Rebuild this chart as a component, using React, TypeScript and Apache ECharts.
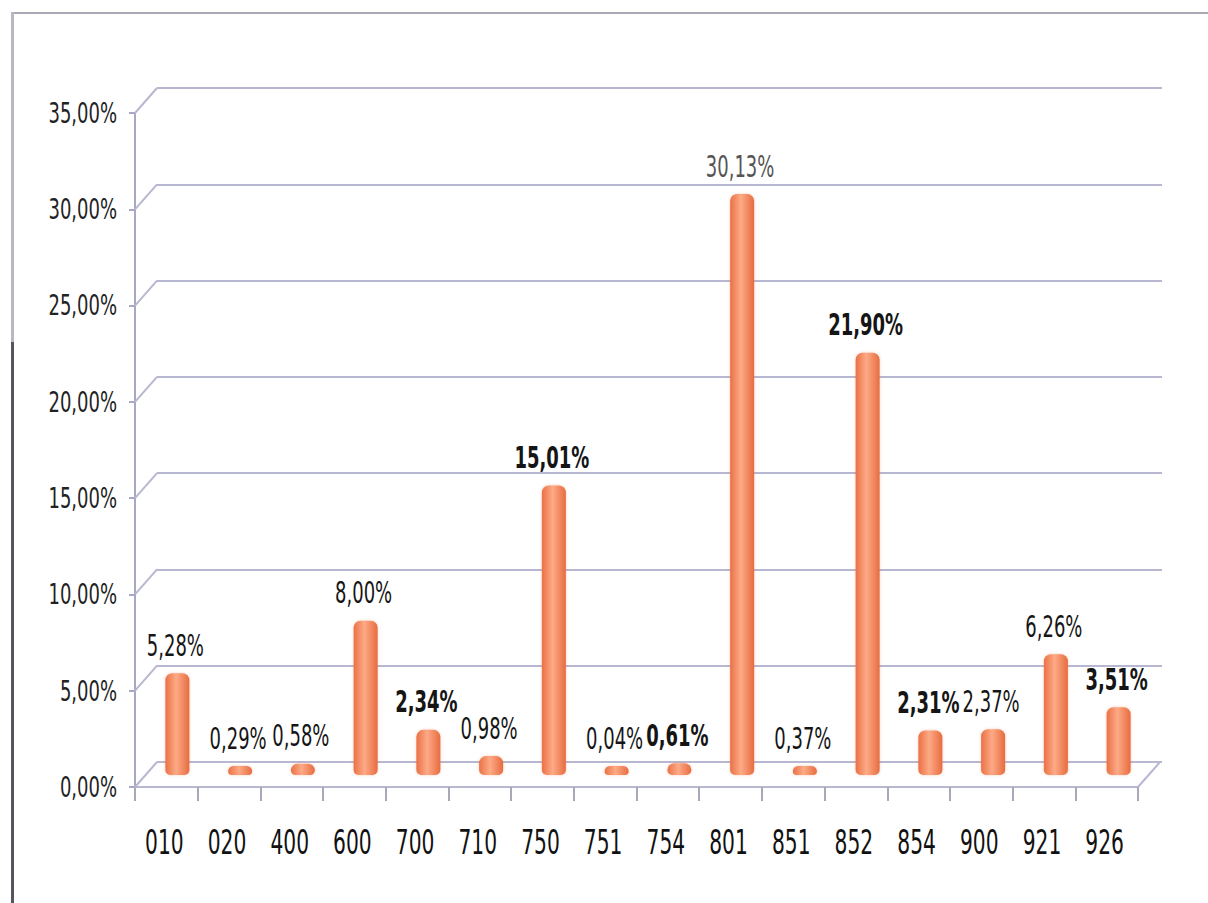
import React, { useEffect, useRef } from "react";
import * as echarts from "echarts";

const categories = ["010", "020", "400", "600", "700", "710", "750", "751", "754", "801", "851", "852", "854", "900", "921", "926"];
const shares = [5.28, 0.29, 0.58, 8.0, 2.34, 0.98, 15.01, 0.04, 0.61, 30.13, 0.37, 21.9, 2.31, 2.37, 6.26, 3.51];
const boldLabels = ["750", "852", "700", "854", "926", "754"];
const yTicks = [0, 5, 10, 15, 20, 25, 30, 35];

const FONT = "'DejaVu Sans Condensed', 'DejaVu Sans', sans-serif";
const GRID_COLOR = "#b7b7d2";
const DX = 22;
const DY = -25;
const MIN_BAR = 9;

const fmt = (v: number) => v.toFixed(2).replace(".", ",") + "%";

function tallText(x: number, y: number, text: string, opts: any) {
  return {
    type: "text",
    x,
    y,
    scaleY: opts.scaleY ?? 1.5,
    style: {
      text,
      fill: opts.color ?? "#111",
      fontSize: opts.fontSize ?? 20,
      fontFamily: FONT,
      fontWeight: opts.bold ? "bold" : "normal",
      align: opts.align ?? "center",
      textAlign: opts.align ?? "center",
      verticalAlign: opts.vAlign ?? "middle",
      textVerticalAlign: opts.vAlign ?? "middle",
    },
  };
}

export default function App() {
  const ref = useRef<HTMLDivElement>(null);
  useEffect(() => {
    document.body.style.margin = "0";
    const chart = echarts.init(ref.current!, null, { renderer: "svg" });
    const barGrad = new echarts.graphic.LinearGradient(0, 0, 1, 0, [
      { offset: 0, color: "#ea7146" },
      { offset: 0.45, color: "#fdaa86" },
      { offset: 1, color: "#e76c40" },
    ]);
    const option: any = {
      animation: false,
      backgroundColor: "#ffffff",
      grid: [
        { left: 135, right: 70, top: 113, bottom: 116 },
        { left: 157, right: 46, top: 88, bottom: 141 },
        { left: 146, right: 58, top: 100, bottom: 128 },
      ],
      xAxis: [
        {
          gridIndex: 0,
          type: "category",
          data: categories,
          axisLine: { show: true, lineStyle: { color: GRID_COLOR, width: 2 } },
          axisTick: { show: true, length: 14, lineStyle: { color: "#a8a8b8", width: 2 } },
          axisLabel: { show: false },
        },
        { gridIndex: 1, type: "category", data: categories, show: false },
        { gridIndex: 2, type: "category", data: categories, show: false },
      ],
      yAxis: [
        {
          gridIndex: 0,
          type: "value",
          min: 0,
          max: 35,
          interval: 5,
          axisLine: { show: true, lineStyle: { color: "#a8a8c4", width: 2 } },
          axisTick: { show: true, length: 6, lineStyle: { color: "#a8a8c4", width: 2 } },
          splitLine: { show: false },
          axisLabel: { show: false },
        },
        {
          gridIndex: 1,
          type: "value",
          min: 0,
          max: 35,
          interval: 5,
          axisLine: { show: false },
          axisTick: { show: false },
          axisLabel: { show: false },
          splitLine: { show: true, lineStyle: { color: GRID_COLOR, width: 2 } },
        },
        { gridIndex: 2, type: "value", min: 0, max: 35, show: false, splitLine: { show: false } },
      ],
      series: [
        {
          // left wall connectors from front ticks to back grid lines
          type: "custom",
          xAxisIndex: 0,
          yAxisIndex: 0,
          data: yTicks.map((t) => [0, t]),
          encode: { x: 0, y: 1 },
          silent: true,
          clip: false,
          renderItem: (params: any, api: any) => {
            const p = api.coord([api.value(0), api.value(1)]);
            const w = api.size([1, 0])[0];
            const x0 = p[0] - w / 2;
            return {
              type: "group",
              children: [
                {
                  type: "line",
                  shape: { x1: x0, y1: p[1], x2: x0 + DX, y2: p[1] + DY },
                  style: { stroke: GRID_COLOR, lineWidth: 2 },
                },
                tallText(x0 - 18, p[1], fmt(api.value(1)), { align: "right", fontSize: 20, scaleY: 1.45, color: "#222" }),
              ],
            };
          },
        },
        {
          // floor right edge + category labels
          type: "custom",
          xAxisIndex: 0,
          yAxisIndex: 0,
          data: categories.map((c, i) => [i, 0]),
          encode: { x: 0, y: 1 },
          silent: true,
          clip: false,
          renderItem: (params: any, api: any) => {
            const i = api.value(0);
            const p = api.coord([i, 0]);
            const w = api.size([1, 0])[0];
            const children: any[] = [tallText(p[0] - 2, p[1] + 55, categories[i], { fontSize: 22.5, scaleY: 1.5, color: "#111" })];
            if (i === categories.length - 1) {
              const x0 = p[0] + w / 2;
              children.push({
                type: "line",
                shape: { x1: x0, y1: p[1], x2: x0 + DX, y2: p[1] + DY },
                style: { stroke: GRID_COLOR, lineWidth: 2 },
              });
            }
            return { type: "group", children };
          },
        },
        {
          type: "bar",
          xAxisIndex: 2,
          yAxisIndex: 2,
          barWidth: 24,
          barMinHeight: MIN_BAR,
          data: shares,
          itemStyle: {
            color: barGrad,
            borderRadius: [7, 7, 5, 5],
            shadowColor: "rgba(230,110,60,0.35)",
            shadowBlur: 3,
          },
        },
        {
          // value labels above bars
          type: "custom",
          xAxisIndex: 2,
          yAxisIndex: 2,
          data: shares.map((v, i) => [i, v]),
          encode: { x: 0, y: 1 },
          silent: true,
          clip: false,
          z: 5,
          renderItem: (params: any, api: any) => {
            const i = api.value(0);
            const v = api.value(1);
            const top = api.coord([i, v]);
            const base = api.coord([i, 0]);
            const y = Math.min(top[1], base[1] - MIN_BAR);
            return tallText(top[0] - 2, y - 13, fmt(v), {
              vAlign: "bottom",
              fontSize: 20,
              scaleY: 1.5,
              bold: boldLabels.includes(categories[i]),
              color: categories[i] === "801" ? "#555" : "#151515",
            });
          },
        },
      ],
      graphic: [
        { type: "rect", shape: { x: 11, y: 12, width: 1197, height: 2 }, style: { fill: "#a9a9b4" }, silent: true },
        { type: "rect", shape: { x: 11, y: 12, width: 3, height: 330 }, style: { fill: "#b8b8c0" }, silent: true },
        { type: "rect", shape: { x: 11, y: 342, width: 3, height: 561 }, style: { fill: "#55555e" }, silent: true },
      ],
    };
    chart.setOption(option);
    return () => chart.dispose();
  }, []);
  return <div ref={ref} style={{ width: 1208, height: 903 }} />;
}
